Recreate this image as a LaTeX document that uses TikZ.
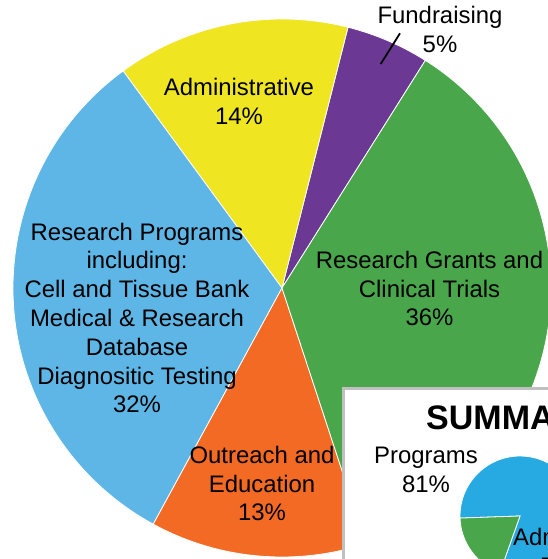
\documentclass[tikz,border=0pt]{standalone}
\usepackage{fontspec}
\setmainfont{Liberation Sans}
\definecolor{cAdmin}{RGB}{240,229,33}
\definecolor{cFund}{RGB}{107,57,147}
\definecolor{cGreen}{RGB}{73,166,74}
\definecolor{cBlue}{RGB}{93,182,230}
\definecolor{cOrange}{RGB}{242,106,36}
\definecolor{cSmallBlue}{RGB}{39,170,225}
\definecolor{cBorder}{RGB}{192,192,192}
\newcommand{\pielbl}[1]{\begin{tabular}[t]{@{}c@{}}#1\end{tabular}}
\tikzset{
  slice/.style={draw=white, line width=0.8pt},
  lbl/.style={inner sep=0pt, anchor=base, font=\fontsize{23.9}{28.8}\selectfont},
  leader/.style={draw=black, line width=1.8pt},
  sumbox/.style={draw=cBorder, line width=3.2pt, fill=white}
}
\begin{document}
\begin{tikzpicture}[x=1pt,y=1pt]
\useasboundingbox (0,0) rectangle (548,-559);
\clip (0,0) rectangle (548,-559);
\fill[white] (0,0) rectangle (548,-559);
\coordinate (c) at (282,-288);
% main pie
\filldraw[slice, fill=cFund]   (c) -- ++(57.8:269pt)  arc[start angle=57.8,  end angle=75.8,  radius=269pt] -- cycle;
\filldraw[slice, fill=cAdmin]  (c) -- ++(75.8:269pt)  arc[start angle=75.8,  end angle=126.2, radius=269pt] -- cycle;
\filldraw[slice, fill=cBlue]   (c) -- ++(126.2:269pt) arc[start angle=126.2, end angle=241.4, radius=269pt] -- cycle;
\filldraw[slice, fill=cOrange] (c) -- ++(241.4:269pt) arc[start angle=241.4, end angle=288.2, radius=269pt] -- cycle;
\filldraw[slice, fill=cGreen]  (c) -- ++(-71.8:269pt) arc[start angle=-71.8, end angle=57.8,  radius=269pt] -- cycle;
% labels
\node[lbl] (fund) at (440,-23.3) {\pielbl{Fundraising\\5\%}};
\coordinate (leadA) at (380.7,-64);
\coordinate (leadB) at (400,-33.3);
\draw[leader] (leadA) -- (leadB);
\node[lbl] (admin) at (239,-96) {\pielbl{Administrative\\14\%}};
\node[lbl] (resprog) at (137,-240) {\pielbl{Research Programs\\including:\\Cell and Tissue Bank\\Medical \& Research\\Database\\Diagnositic Testing\\32\%}};
\node[lbl] (grants) at (429.5,-268.3) {\pielbl{Research Grants and\\Clinical Trials\\36\%}};
\node[lbl] (outreach) at (262,-463.3) {\pielbl{Outreach and\\Education\\13\%}};
% summary box
\draw[sumbox] (343.5,-388.3) rectangle (600,-620);
\node[inner sep=0pt, anchor=base west, font=\fontsize{34}{40}\selectfont\bfseries] (summary) at (426,-429.3) {SUMMARY};
\node[lbl] (programs) at (426,-463.3) {\pielbl{Programs\\81\%}};
\coordinate (sc) at (520,-516);
\filldraw[slice, fill=cSmallBlue] (sc) -- ++(250.4:60pt) arc[start angle=250.4, end angle=542, radius=60pt] -- cycle;
\filldraw[slice, fill=cGreen] (sc) -- ++(182:60pt) arc[start angle=182, end angle=250.4, radius=60pt] -- cycle;
\node[lbl, anchor=base west] (admsmall) at (513,-545) {Administrative};
\node[lbl, anchor=base west] (fundsmall) at (540,-574) {Fundraising};
\end{tikzpicture}
\end{document}
